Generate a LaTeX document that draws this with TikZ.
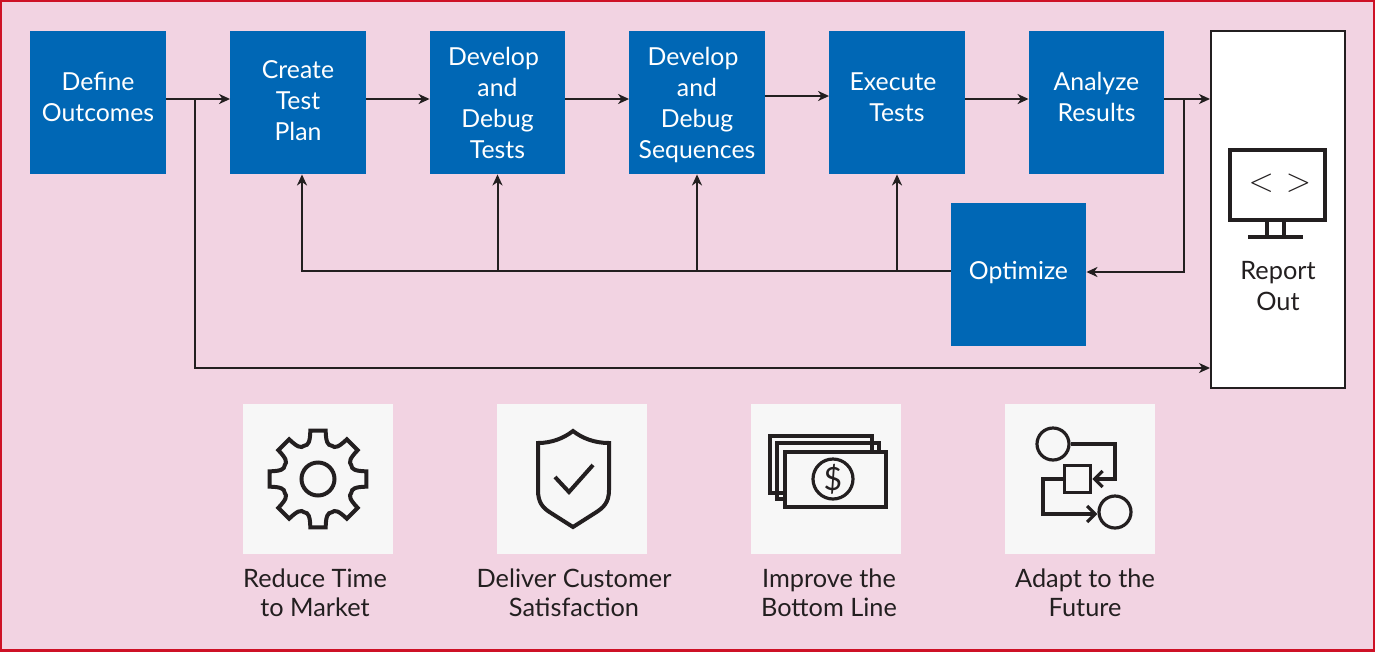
\documentclass[tikz,border=0pt]{standalone}
\usepackage{fontspec}
\setmainfont{Lato}
\usetikzlibrary{arrows.meta}
\usetikzlibrary{shapes}

\definecolor{bgpink}{HTML}{F2D3E2}
\definecolor{edgered}{HTML}{CE1126}
\definecolor{boxblue}{HTML}{0067B5}
\definecolor{inkdark}{HTML}{231F20}
\definecolor{tilegray}{HTML}{F7F7F7}

\tikzset{
    stepbox/.style={fill=boxblue, text=white, align=center, minimum width=101.5pt, minimum height=107.5pt, inner sep=0pt, font=\fontsize{18.6}{23.25}\selectfont},
    tile/.style={fill=tilegray, minimum width=112.5pt, minimum height=112.5pt, inner sep=0pt},
    caption/.style={text=inkdark, align=center, inner sep=0pt, font=\fontsize{19}{21.75}\selectfont},
    flow/.style={draw=inkdark, line width=1.5pt, -{Stealth[length=8.25pt,width=7.5pt,inset=2.5pt]}},
    icon/.style={draw=inkdark, line width=3pt},
    thin icon/.style={draw=inkdark, line width=2.4pt},
    barb/.style={-{Straight Barb[length=6pt,width=12pt]}}
}

\begin{document}
\begin{tikzpicture}[x=0.75pt, y=-0.75pt]
    \useasboundingbox (0,0) rectangle (1375,651);
    \fill[bgpink] (0,0) rectangle (1375,651);
    \draw[edgered, line width=3pt] (0,0) rectangle (1375,651);

    \node[stepbox, text depth=9pt] (Define) at (98,102.5) {Define\\Outcomes};
    \node[stepbox, text depth=3pt] (Create) at (298,102.5) {Create\\Test\\Plan};
    \node[stepbox] (Tests) at (497.5,102.5) {Develop\hspace*{6pt}\\and\\Debug\hspace*{6pt}\\Tests};
    \node[stepbox, text depth=0pt] (Sequences) at (697,102.5) {Develop\hspace*{6pt}\\and\\Debug\hspace*{6pt}\\Sequences};
    \node[stepbox, text depth=8pt] (Execute) at (897,102.5) {Execute\hspace*{6pt}\\Tests};
    \node[stepbox, text depth=9pt] (Analyze) at (1096.5,102.5) {Analyze\\Results};
    \node[stepbox, text depth=6.5pt] (Optimize) at (1018.5,274.5) {Optimize};
    \node[draw=inkdark, line width=1.5pt, fill=white, minimum width=100.5pt, minimum height=267.75pt, inner sep=0pt] (Report) at (1278,209.5) {};
    \node[caption, font=\fontsize{19}{23.25}\selectfont] (ReportOut) at (1278,286) {Report\\Out};

    \coordinate (rowA) at (0,99);
    \coordinate (rowB) at (0,96);
    \coordinate (fbEnd) at (302,271);
    \coordinate (fbTests) at (497.5,271);
    \coordinate (fbSeq) at (697,271);
    \coordinate (fbExec) at (897,271);
    \coordinate (skipTop) at (195,99);
    \coordinate (skipLow) at (195,368);
    \coordinate (loopTop) at (1184,99);
    \coordinate (loopLow) at (1184,272);

    \draw[flow] (Define.east |- rowA) to (Create.west |- rowA);
    \draw[flow] (Create.east |- rowA) to (Tests.west |- rowA);
    \draw[flow] (Tests.east |- rowA) to (Sequences.west |- rowA);
    \draw[flow] (Sequences.east |- rowB) to (Execute.west |- rowB);
    \draw[flow] (Execute.east |- rowA) to (Analyze.west |- rowA);
    \draw[flow] (Analyze.east |- rowA) to (Report.west |- rowA);
    \draw[flow] (skipTop) -- (skipLow) -- (Report.west |- skipLow);
    \draw[flow] (loopTop) -- (loopLow) -- (Optimize.east |- loopLow);
    \draw[flow] (Optimize.west |- fbEnd) -- (fbEnd) -- (Create.south -| fbEnd);
    \draw[flow] (fbTests) to (Tests.south);
    \draw[flow] (fbSeq) to (Sequences.south);
    \draw[flow] (fbExec) to (Execute.south);

    % monitor
    \draw[icon] (1230,150) rectangle (1325,220);
    \draw[icon, line width=2.6pt] (1267,222) -- (1267,237) (1284,222) -- (1284,237);
    \draw[icon, line width=2.6pt] (1248,237) -- (1303,237);
    \node[text=inkdark, inner sep=0pt, font=\fontsize{28}{28}\selectfont] (Code) at (1280,183) {$<$\hspace{9pt}$>$};

    \node[tile] (TileGear) at (318,479) {};
    \node[tile] (TileShield) at (572,479) {};
    \node[tile] (TileMoney) at (826,479) {};
    \node[tile] (TileFlow) at (1080,479) {};

    % gear
    \begin{scope}[shift={(318,479)}]
        \draw[icon] (-9:49) \foreach \a in {0,45,...,315} {
            -- (\a+9:49) .. controls (\a+12:38) and (\a+16:35) .. (\a+22.5:36)
            .. controls (\a+29:35) and (\a+33:38) .. (\a+36:49)} -- cycle;
        \draw[icon] (0,0) circle (16.5);
    \end{scope}

    % shield
    \draw[icon] (538,443) .. controls (552,443) and (564,438) .. (573,431)
        .. controls (582,438) and (594,443) .. (609,443) -- (609,490)
        .. controls (609,503) and (603,508) .. (595,513) -- (573,527) -- (551,513)
        .. controls (543,508) and (538,503) .. (538,490) -- cycle;
    \draw[icon] (555,477) -- (569,492) -- (593,465);

    % money
    \draw[thin icon] (785,493) -- (770,493) -- (770,436) -- (872,436) -- (872,452);
    \draw[thin icon] (785,499) -- (777,499) -- (777,443) -- (879,443) -- (879,452);
    \draw[thin icon] (785,452) rectangle (886,507);
    \draw[thin icon] (833,479) circle (20);
    \node[text=inkdark, inner sep=0pt, font=\fontsize{24}{24}\selectfont] (Dollar) at (833,479) {\$};

    % flow chart
    \node[draw=inkdark, line width=2.4pt, circle, minimum size=24pt, inner sep=0pt] (TopRound) at (1053,444) {};
    \node[draw=inkdark, line width=2.4pt, minimum size=20pt, inner sep=0pt] (MidSquare) at (1077.5,479) {};
    \node[draw=inkdark, line width=2.4pt, circle, minimum size=24pt, inner sep=0pt] (LowRound) at (1115,512) {};
    \coordinate (cornerA) at (1115,444);
    \coordinate (cornerB) at (1115,479);
    \coordinate (cornerC) at (1043,479);
    \coordinate (cornerD) at (1043,514);
    \draw[thin icon, barb] (TopRound.east) -- (cornerA) -- (cornerB) -- (MidSquare.east);
    \draw[thin icon, barb] (MidSquare.west) -- (cornerC) -- (cornerD) -- (LowRound.west |- cornerD);

    \node[caption] (CapGear) at (315,592.5) {Reduce Time\\to Market};
    \node[caption] (CapShield) at (574,592.5) {Deliver Customer\\Satisfaction};
    \node[caption] (CapMoney) at (829,592.5) {Improve the\\Bottom Line};
    \node[caption] (CapFlow) at (1085,592.5) {Adapt to the\\Future};
\end{tikzpicture}
\end{document}
